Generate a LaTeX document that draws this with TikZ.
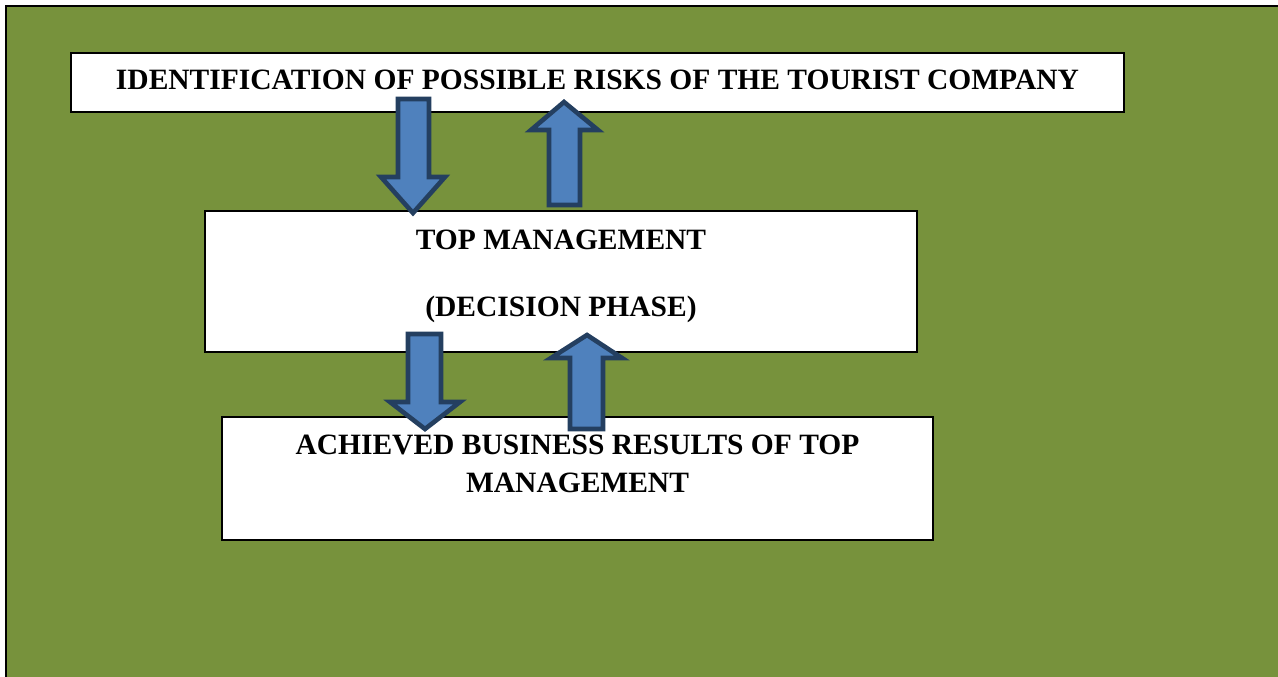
\documentclass[tikz,border=0pt]{standalone}
\usepackage{fontspec}
\setmainfont{Liberation Serif}
\definecolor{bggreen}{HTML}{77923C}
\definecolor{arrfill}{HTML}{4F81BD}
\definecolor{arrline}{HTML}{243F60}
\begin{document}
\begin{tikzpicture}[x=1pt,y=-1pt,
  box/.style={draw=black,line width=2.4pt,fill=white},
  lbl/.style={font=\fontsize{29.5}{35}\selectfont\bfseries,anchor=base,inner sep=0pt},
  blockarrow/.style={draw=arrline,fill=arrfill,line width=4.6pt,line join=miter}]
\useasboundingbox (0,0) rectangle (1278,677);
\fill[white] (-10,-10) rectangle (1290,690);
\fill[bggreen] (6,6) rectangle (1290,690);
\draw[line width=2.4pt] (6,690) -- (6,6) -- (1290,6);
% boxes
\draw[box] (71,53) rectangle (1124,112);
\draw[box] (205,211) rectangle (917,352);
\draw[box] (222,417) rectangle (933,540);
% texts
\node[lbl] (t1) at (597.5,90) {IDENTIFICATION OF POSSIBLE RISKS OF THE TOURIST COMPANY};
\node[lbl] (t2) at (561,249) {TOP MANAGEMENT};
\node[lbl] (t3) at (561,316) {(DECISION PHASE)};
\node[lbl] (t4) at (577.5,454) {ACHIEVED BUSINESS RESULTS OF TOP};
\node[lbl] (t5) at (577.5,492) {MANAGEMENT};
% block arrows
\draw[blockarrow] (398,99) -- (429,99) -- (429,177) -- (445,177) -- (413,213) -- (381,177) -- (398,177) -- cycle;
\draw[blockarrow] (564,102) -- (598,130) -- (580,130) -- (580,205) -- (549,205) -- (549,130) -- (531,130) -- cycle;
\draw[blockarrow] (408,334) -- (441,334) -- (441,402) -- (460,402) -- (425,429) -- (390,402) -- (408,402) -- cycle;
\draw[blockarrow] (587,335) -- (622,358) -- (603,358) -- (603,429) -- (570,429) -- (570,358) -- (551,358) -- cycle;
\end{tikzpicture}
\end{document}
